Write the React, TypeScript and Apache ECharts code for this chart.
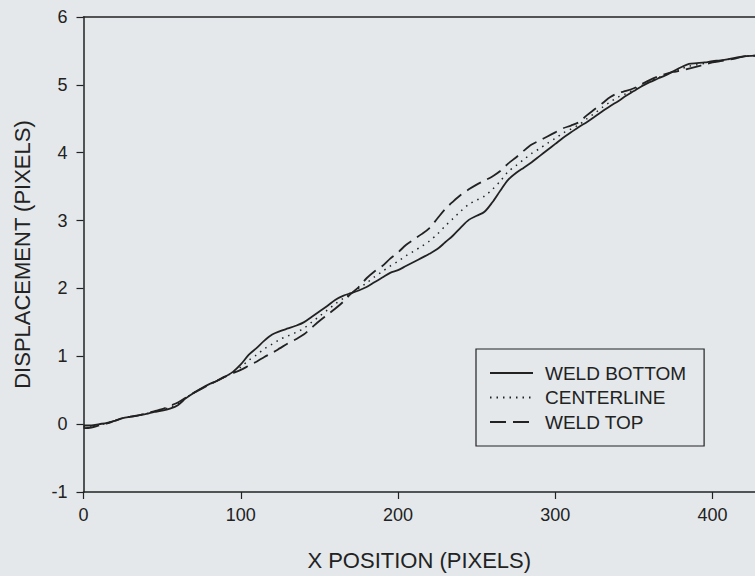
import React, { useEffect, useRef } from "react";
import * as echarts from "echarts";

const xPos = [0, 5, 10, 15, 20, 25, 30, 35, 40, 45, 50, 55, 60, 65, 70, 75, 80, 85, 90, 95, 100, 105, 110, 115, 120, 125, 130, 135, 140, 145, 150, 155, 160, 165, 170, 175, 180, 185, 190, 195, 200, 205, 210, 215, 220, 225, 230, 235, 240, 245, 250, 255, 260, 265, 270, 275, 280, 285, 290, 295, 300, 305, 310, 315, 320, 325, 330, 335, 340, 345, 350, 355, 360, 365, 370, 375, 380, 385, 390, 395, 400, 405, 410, 415, 420, 427];

const weldBottom = [-0.02, -0.02, 0.0, 0.02, 0.05, 0.09, 0.11, 0.13, 0.15, 0.18, 0.2, 0.23, 0.28, 0.38, 0.46, 0.53, 0.59, 0.64, 0.7, 0.77, 0.88, 1.02, 1.12, 1.23, 1.32, 1.37, 1.41, 1.45, 1.5, 1.58, 1.66, 1.74, 1.83, 1.89, 1.93, 1.97, 2.02, 2.09, 2.16, 2.23, 2.27, 2.33, 2.39, 2.45, 2.51, 2.58, 2.68, 2.78, 2.9, 3.01, 3.07, 3.13, 3.27, 3.44, 3.6, 3.7, 3.78, 3.86, 3.95, 4.04, 4.13, 4.22, 4.3, 4.38, 4.45, 4.53, 4.61, 4.69, 4.76, 4.84, 4.91, 4.98, 5.04, 5.09, 5.14, 5.2, 5.26, 5.31, 5.32, 5.33, 5.35, 5.36, 5.38, 5.4, 5.42, 5.43];

const centerline = [-0.04, -0.03, -0.01, 0.015, 0.05, 0.09, 0.11, 0.13, 0.155, 0.185, 0.21, 0.25, 0.3, 0.385, 0.46, 0.525, 0.585, 0.64, 0.7, 0.76, 0.84, 0.94, 1.02, 1.11, 1.18, 1.25, 1.3, 1.35, 1.41, 1.5, 1.59, 1.68, 1.77, 1.85, 1.92, 2.0, 2.08, 2.17, 2.25, 2.33, 2.4, 2.48, 2.55, 2.62, 2.7, 2.8, 2.92, 3.03, 3.14, 3.24, 3.3, 3.36, 3.46, 3.58, 3.72, 3.81, 3.9, 3.99, 4.06, 4.14, 4.21, 4.29, 4.35, 4.41, 4.5, 4.58, 4.67, 4.75, 4.82, 4.87, 4.93, 4.99, 5.05, 5.1, 5.15, 5.195, 5.235, 5.275, 5.295, 5.315, 5.34, 5.355, 5.375, 5.395, 5.42, 5.43];

const weldTop = [-0.06, -0.05, -0.02, 0.01, 0.05, 0.09, 0.11, 0.13, 0.16, 0.19, 0.22, 0.27, 0.32, 0.39, 0.46, 0.52, 0.58, 0.64, 0.7, 0.75, 0.8, 0.86, 0.92, 0.99, 1.05, 1.12, 1.19, 1.25, 1.32, 1.42, 1.52, 1.61, 1.7, 1.8, 1.92, 2.02, 2.15, 2.25, 2.33, 2.44, 2.53, 2.64, 2.72, 2.8, 2.89, 3.03, 3.17, 3.28, 3.38, 3.46, 3.53, 3.59, 3.65, 3.73, 3.84, 3.93, 4.03, 4.12, 4.18, 4.24, 4.3, 4.36, 4.4, 4.45, 4.55, 4.64, 4.73, 4.82, 4.88, 4.91, 4.95, 5.01, 5.07, 5.12, 5.16, 5.19, 5.21, 5.24, 5.27, 5.3, 5.33, 5.35, 5.37, 5.39, 5.42, 5.43];

const seriesNames = ["WELD BOTTOM", "CENTERLINE", "WELD TOP"];
const xTicks = [0, 100, 200, 300, 400];

const FONT = "'Liberation Sans', Arial, sans-serif";
const INK = "#222222";

function pairs(ys: number[]) {
  return xPos.map((x, i) => [x, ys[i]]);
}

export default function App() {
  const ref = useRef<HTMLDivElement>(null);
  useEffect(() => {
    if (!ref.current) return;
    const chart = echarts.init(ref.current, null, { renderer: "svg" });
    chart.setOption({
      animation: false,
      backgroundColor: "#e4e8eb",
      textStyle: { fontFamily: FONT },
      grid: { left: 83.5, right: 0, top: 17, bottom: 82, containLabel: false },
      legend: {
        orient: "vertical",
        left: 476,
        top: 349,
        padding: [14, 18, 14, 13],
        borderColor: INK,
        borderWidth: 1.2,
        itemWidth: 43,
        itemHeight: 14,
        itemGap: 4.5,
        itemStyle: { opacity: 0 },
        textStyle: { fontFamily: FONT, fontSize: 19, color: INK, lineHeight: 20, padding: [0, 0, 0, 7] },
        data: seriesNames,
      },
      xAxis: [
        {
          type: "value",
          min: 0,
          max: 427,
          interval: 100,
          position: "bottom",
          name: "X POSITION (PIXELS)",
          nameLocation: "middle",
          nameGap: 57,
          nameTextStyle: { fontFamily: FONT, fontSize: 22, color: INK },
          axisLine: { show: true, onZero: false, lineStyle: { color: INK, width: 1.5 } },
          axisTick: { show: true, length: 7, lineStyle: { color: INK, width: 1.2 } },
          axisLabel: {
            fontFamily: FONT,
            fontSize: 18,
            color: INK,
            margin: 14,
            showMaxLabel: false,
            formatter: (v: number) => (xTicks.includes(v) ? String(v) : ""),
          },
          splitLine: { show: false },
        },
        {
          type: "value",
          min: 0,
          max: 427,
          position: "top",
          axisLine: { show: true, onZero: false, lineStyle: { color: INK, width: 1.5 } },
          axisTick: { show: false },
          axisLabel: { show: false },
          splitLine: { show: false },
        },
      ],
      yAxis: {
        type: "value",
        min: -1,
        max: 6,
        interval: 1,
        name: "DISPLACEMENT (PIXELS)",
        nameLocation: "middle",
        nameGap: 50,
        nameTextStyle: { fontFamily: FONT, fontSize: 22, color: INK },
        axisLine: { show: true, onZero: false, lineStyle: { color: INK, width: 1.5 } },
        axisTick: { show: true, length: 7, lineStyle: { color: INK, width: 1.2 } },
        axisLabel: { fontFamily: FONT, fontSize: 18, color: INK, margin: 16 },
        splitLine: { show: false },
      },
      series: [
        {
          name: seriesNames[0],
          type: "line",
          data: pairs(weldBottom),
          symbol: "none",
          smooth: 0.3,
          lineStyle: { color: INK, width: 1.8, type: "solid" },
          itemStyle: { color: INK },
        },
        {
          name: seriesNames[1],
          type: "line",
          data: pairs(centerline),
          symbol: "none",
          smooth: 0.3,
          lineStyle: { color: INK, width: 1.5, type: [1.5, 5] },
          itemStyle: { color: INK },
        },
        {
          name: seriesNames[2],
          type: "line",
          data: pairs(weldTop),
          symbol: "none",
          smooth: 0.3,
          lineStyle: { color: INK, width: 1.8, type: [16, 7] },
          itemStyle: { color: INK },
        },
      ],
    });
    return () => chart.dispose();
  }, []);
  return (
    <div
      ref={ref}
      style={{ position: "fixed", left: 0, top: 0, width: 755, height: 576 }}
    />
  );
}
